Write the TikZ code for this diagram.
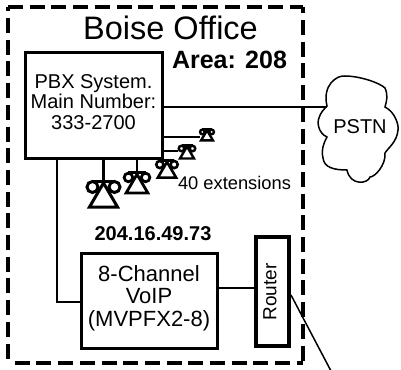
\documentclass[tikz,border=0pt]{standalone}
\usepackage{fontspec}
\setmainfont{Liberation Sans}
\usetikzlibrary{positioning}
\tikzset{
  officeside/.style={line width=4pt, dash pattern=on 15pt off 6.7pt},
  unitbox/.style={draw, line width=3pt, inner sep=0pt},
  wire/.style={line width=2pt},
  boxtext/.style={font=\fontsize{20}{20.5}\selectfont, align=center},
  telset/.pic={
    \draw (-11,7) circle (5.5) (11,7) circle (5.5);
    \draw (-11,1) -- (11,1);
    \draw[line join=miter] (0,3) -- (-14,27) -- (14,27) -- cycle;
  }
}
\begin{document}
\begin{tikzpicture}[x=1pt, y=-1pt]
  \useasboundingbox (0,0) rectangle (401,369);
  % Office outline
  \node[minimum width=295pt, minimum height=356pt, inner sep=0pt, outer sep=0pt] (office) at (155.5,185) {};
  \draw[officeside] (office.north west) -- (office.north east);
  \draw[officeside, dash phase=10.7pt] (office.north west) -- (office.south west);
  \draw[officeside, dash phase=8.7pt] (office.north east) -- (office.south east);
  \draw[officeside, dash phase=15pt] (office.south west) -- (office.south east);
  \node[font=\fontsize{32.5}{32.5}\selectfont] (title) at (170.5,28) {Boise Office};
  \node[font=\fontsize{25}{25}\bfseries\selectfont] (area) at (229.5,60) {Area: 208};
  % Boxes
  \node[unitbox, minimum width=137pt, minimum height=105pt] (pbx) at (93.5,105.5) {};
  \node[boxtext] (pbxlabel) at (93.5,102) {PBX System.\\Main Number:\\333-2700};
  \node[unitbox, minimum width=136pt, minimum height=95pt] (voip) at (149,300.5) {};
  \node[boxtext, font=\fontsize{22}{22.5}\selectfont] (voiplabel) at (149,298) {8-Channel\\VoIP\\(MVPFX2-8)};
  \node[unitbox, line width=4pt, minimum width=33pt, minimum height=109pt] (router) at (272.5,291.5) {};
  \node[rotate=90, font=\fontsize{19}{19}\selectfont] (routerlabel) at (270,292) {Router};
  \node[font=\fontsize{20}{20}\bfseries\selectfont] (ipaddr) at (153,234) {204.16.49.73};
  \node[font=\fontsize{18.3}{18.3}\selectfont] (extlabel) at (234.5,183) {40 extensions};
  % Cloud
  \draw[line width=1.5pt] (327,106)
    .. controls (322,85) and (337,75) .. (345,76)
    .. controls (360,76) and (380,83) .. (385,88)
    .. controls (388,95) and (387,100) .. (385,107)
    .. controls (395,112) and (399,125) .. (398,130)
    .. controls (397,142) and (388,148) .. (385,153)
    .. controls (386,165) and (375,177) .. (370,177)
    .. controls (368,184) and (350,186) .. (347,170)
    .. controls (335,170) and (324,168) .. (323,158)
    .. controls (321,150) and (324,142) .. (327,137)
    .. controls (318,133) and (317,122) .. (319,118)
    .. controls (320,113) and (325,108) .. (327,106) -- cycle;
  \node[boxtext] (pstn) at (360,127) {PSTN};
  \coordinate (cloudin) at (327,106.5);
  % Phones
  \coordinate (tela) at (207,129);
  \coordinate (telb) at (187,145);
  \coordinate (telc) at (167,160);
  \coordinate (teld) at (137,172);
  \coordinate (tele) at (103.5,180);
  \pic[scale=0.42, line width=2.4pt] at (tela) {telset};
  \pic[scale=0.5, line width=2.4pt] at (telb) {telset};
  \pic[scale=0.65, line width=2.6pt] at (telc) {telset};
  \pic[scale=0.78, line width=2.8pt] at (teld) {telset};
  \pic[line width=3pt] at (tele) {telset};
  % Connectors
  \draw[wire] (pbx.east |- cloudin) -- (cloudin);
  \draw[line width=2.5pt] (pbx.east |- 0,137) -- (200,137);
  \draw[line width=2.5pt] (pbx.east |- 0,151) -- (178,151);
  \draw[line width=2.5pt] (pbx.south -| teld) -- (teld);
  \draw[line width=2.5pt] (pbx.south -| tele) -- (tele);
  \draw[wire] (pbx.south -| 57,0) -- (57,302) -- (voip.west |- 0,302);
  \draw[wire] (voip.east |- 0,288) -- (router.west |- 0,288);
  \coordinate (wan) at (331,371);
  \draw[line width=1.5pt] (router.east |- 0,295) -- (wan);
\end{tikzpicture}
\end{document}
